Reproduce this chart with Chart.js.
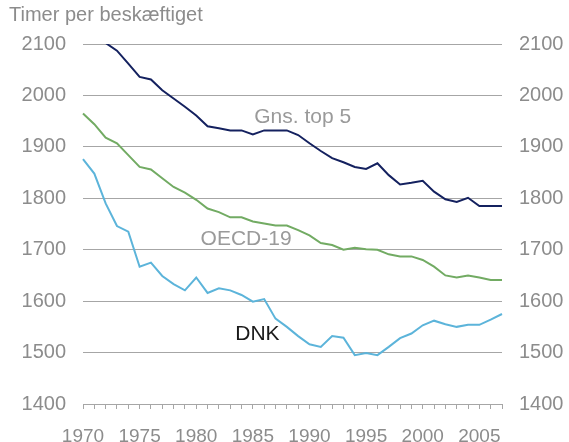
<!DOCTYPE html>
<html>
<head>
<meta charset="utf-8">
<script src="https://cdn.jsdelivr.net/npm/chart.js@4/dist/chart.umd.min.js"></script>
<style>
html,body{margin:0;padding:0;background:#fff;}
#wrap{width:569px;height:442px;position:relative;}
</style>
</head>
<body>
<div id="wrap"><canvas id="c" width="569" height="442"></canvas></div>
<script>
const years = [];
for (let y = 1970; y <= 2007; y++) years.push(String(y));

const top5 = [2140,2120,2102,2087,2062,2036,2031,2010,1994,1978,1961,1940,1936,1932,1932,1924,1932,1932,1932,1923,1907,1892,1878,1870,1861,1857,1868,1845,1827,1830,1834,1813,1798,1793,1801,1785,1785,1785];
const oecd19 = [1965,1944,1918,1907,1884,1861,1856,1839,1822,1811,1797,1780,1773,1763,1763,1755,1751,1747,1747,1738,1728,1713,1709,1700,1704,1701,1700,1691,1687,1687,1680,1667,1650,1646,1650,1646,1641,1641];
const dnk = [1876,1848,1790,1746,1735,1667,1675,1649,1633,1621,1646,1616,1625,1621,1612,1599,1604,1566,1550,1532,1516,1511,1532,1529,1495,1499,1495,1511,1528,1537,1553,1562,1555,1550,1554,1554,1564,1575];

const yMin = 1400, yMax = 2100, yStep = 100;
const titleText = 'Timer per beskæftiget';
const seriesLabels = [
  {text:'Gns. top 5', x:'1989', dx:0.4, y:1958, color:'#9a9a9a'},
  {text:'OECD-19', x:'1984', dx:0.4, y:1720, color:'#9a9a9a'},
  {text:'DNK', x:'1985', dx:0.4, y:1536, color:'#1a1a1a'}
];

const FONT = "'Liberation Sans', Arial, sans-serif";
const axisGray = '#8c8c8c';

const annot = {
  id:'annot',
  afterDatasetsDraw(chart){
    const ctx = chart.ctx;
    const xs = chart.scales.x, ys = chart.scales.y;
    ctx.save();
    ctx.font = '20px ' + FONT;
    ctx.fillStyle = axisGray;
    ctx.textAlign = 'left';
    ctx.textBaseline = 'alphabetic';
    ctx.fillText(titleText, 9, 21);
    ctx.font = '21px ' + FONT;
    ctx.textAlign = 'center';
    ctx.textBaseline = 'middle';
    seriesLabels.forEach(l => {
      const i = years.indexOf(l.x);
      const px = xs.getPixelForValue(i) + l.dx * (xs.getPixelForValue(1) - xs.getPixelForValue(0));
      const py = ys.getPixelForValue(l.y);
      ctx.fillStyle = l.color;
      ctx.fillText(l.text, px, py);
    });
    ctx.restore();
  }
};

const yTickFmt = v => String(v);

new Chart(document.getElementById('c'), {
  type:'line',
  data:{
    labels: years,
    datasets:[
      {label:'Gns. top 5', data: top5, borderColor:'#14215f', borderWidth:2, pointRadius:0, tension:0, yAxisID:'y'},
      {label:'OECD-19', data: oecd19, borderColor:'#72ab63', borderWidth:2, pointRadius:0, tension:0, yAxisID:'y'},
      {label:'DNK', data: dnk, borderColor:'#5cb4da', borderWidth:2, pointRadius:0, tension:0, yAxisID:'y'}
    ]
  },
  options:{
    responsive:false,
    animation:false,
    layout:{padding:{top:44,left:0,right:0,bottom:0}},
    plugins:{legend:{display:false}, tooltip:{enabled:false}, title:{display:false}},
    scales:{
      x:{
        type:'category',
        offset:false,
        grid:{display:true, drawOnChartArea:false, drawTicks:true, tickLength:5, color:'#a6a6a6', tickColor:'#a6a6a6'},
        border:{display:true, color:'#a6a6a6', width:1},
        ticks:{
          autoSkip:false, maxRotation:0, minRotation:0, padding:16,
          color: axisGray, font:{family:FONT, size:19},
          callback:(v,i)=> (parseInt(years[i]) % 5 === 0 ? years[i] : '')
        },
        afterFit(s){ s.height = 38; }
      },
      y:{
        position:'left', min:yMin, max:yMax,
        ticks:{stepSize:yStep, color:axisGray, font:{family:FONT, size:20}, padding:17, callback:yTickFmt},
        grid:{color:'#a6a6a6', drawTicks:false, lineWidth:1},
        border:{display:false},
        afterFit(s){ s.width = 83; }
      },
      y2:{
        position:'right', min:yMin, max:yMax,
        ticks:{stepSize:yStep, color:axisGray, font:{family:FONT, size:20}, padding:17, callback:yTickFmt},
        grid:{display:false, drawTicks:false},
        border:{display:false},
        afterFit(s){ s.width = 67; }
      }
    }
  },
  plugins:[annot]
});
</script>
</body>
</html>
